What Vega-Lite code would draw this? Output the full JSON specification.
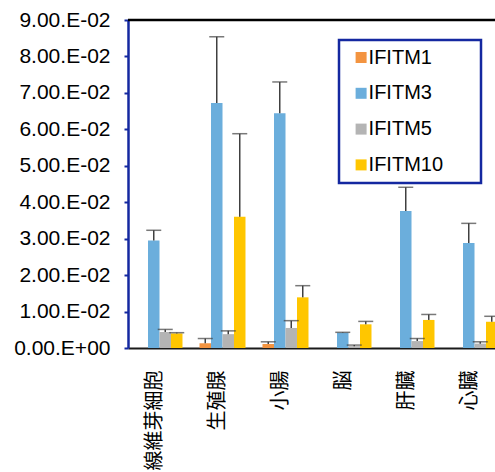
{
  "$schema": "https://vega.github.io/schema/vega-lite/v6.json",
  "autosize": {"type": "none"},
  "padding": {"left": 128, "top": 20, "right": 0, "bottom": 124},
  "width": 367,
  "height": 328,
  "background": "white",
  "config": {
    "view": {"stroke": null},
    "font": "Liberation Sans",
    "legend": {"strokeWidth": 2.5},
    "axisY": {"title": null, "grid": false, "tickCount": 10,
      "labelExpr": "datum.value == 0 ? '0.00.E+00' : format(datum.value * 100, '.2f') + '.E-02'",
      "labelOverlap": false, "labelFont": "Liberation Sans", "labelFontSize": 21, "labelColor": "black", "labelPadding": 14,
      "domainColor": "#1428A0", "domainWidth": 2.5, "tickColor": "#1428A0", "tickWidth": 2, "tickSize": 4}
  },
  "data": {"values": [
    {"tissue": "線維芽細胞", "gene": "IFITM1", "value": 0, "upper": 0},
    {"tissue": "線維芽細胞", "gene": "IFITM3", "value": 0.0295, "upper": 0.0323},
    {"tissue": "線維芽細胞", "gene": "IFITM5", "value": 0.0044, "upper": 0.0051},
    {"tissue": "線維芽細胞", "gene": "IFITM10", "value": 0.0040, "upper": 0.0042},
    {"tissue": "生殖腺", "gene": "IFITM1", "value": 0.0013, "upper": 0.0026},
    {"tissue": "生殖腺", "gene": "IFITM3", "value": 0.0672, "upper": 0.0854},
    {"tissue": "生殖腺", "gene": "IFITM5", "value": 0.0038, "upper": 0.0047},
    {"tissue": "生殖腺", "gene": "IFITM10", "value": 0.0360, "upper": 0.0588},
    {"tissue": "小腸", "gene": "IFITM1", "value": 0.0011, "upper": 0.0017},
    {"tissue": "小腸", "gene": "IFITM3", "value": 0.0644, "upper": 0.0730},
    {"tissue": "小腸", "gene": "IFITM5", "value": 0.0055, "upper": 0.0075},
    {"tissue": "小腸", "gene": "IFITM10", "value": 0.0139, "upper": 0.0171},
    {"tissue": "脳", "gene": "IFITM1", "value": 0, "upper": 0},
    {"tissue": "脳", "gene": "IFITM3", "value": 0.0042, "upper": 0.0043},
    {"tissue": "脳", "gene": "IFITM5", "value": 0.0005, "upper": 0.0008},
    {"tissue": "脳", "gene": "IFITM10", "value": 0.0065, "upper": 0.0073},
    {"tissue": "肝臓", "gene": "IFITM1", "value": 0, "upper": 0},
    {"tissue": "肝臓", "gene": "IFITM3", "value": 0.0376, "upper": 0.0441},
    {"tissue": "肝臓", "gene": "IFITM5", "value": 0.0019, "upper": 0.0026},
    {"tissue": "肝臓", "gene": "IFITM10", "value": 0.0077, "upper": 0.0092},
    {"tissue": "心臓", "gene": "IFITM1", "value": 0, "upper": 0},
    {"tissue": "心臓", "gene": "IFITM3", "value": 0.0288, "upper": 0.0342},
    {"tissue": "心臓", "gene": "IFITM5", "value": 0.0012, "upper": 0.0017},
    {"tissue": "心臓", "gene": "IFITM10", "value": 0.0072, "upper": 0.0087}
  ]},
  "layer": [
    {
      "mark": {"type": "bar"},
      "encoding": {
        "x": {"field": "tissue", "type": "nominal", "sort": ["線維芽細胞", "生殖腺", "小腸", "脳", "肝臓", "心臓"],
          "scale": {"range": [0, 378], "paddingInner": 0.27, "paddingOuter": 0.135},
          "axis": {"title": null, "labelAngle": 270, "labelFont": "Noto Sans CJK JP", "labelFontSize": 20, "labelColor": "black", "ticks": false, "labelPadding": 22, "labelOffset": -5, "domainColor": "#1a1a1a", "domainWidth": 2}},
        "xOffset": {"field": "gene", "type": "nominal", "scale": {"domain": ["IFITM1", "IFITM3", "IFITM5", "IFITM10"]}},
        "y": {"field": "value", "type": "quantitative", "scale": {"domain": [0, 0.09], "nice": false}},
        "color": {"field": "gene", "type": "nominal",
          "scale": {"domain": ["IFITM1", "IFITM3", "IFITM5", "IFITM10"], "range": ["#F39440", "#6BAEDC", "#B4B4B4", "#FFC600"]},
          "legend": {"orient": "none", "legendX": 211, "legendY": 20, "title": " ", "titleOrient": "right", "titlePadding": 30, "titleFontSize": 20,
            "strokeColor": "#1428A0",
            "fillColor": "white", "padding": 7.5, "symbolType": "square", "symbolSize": 121, "symbolStrokeWidth": 0,
            "labelFont": "Liberation Sans", "labelFontSize": 20, "labelColor": "black", "rowPadding": 15.8, "labelOffset": -2.5,
            "symbolOffset": 4.6}}
      }
    },
    {
      "transform": [{"filter": "datum.upper > datum.value"}],
      "mark": {"type": "rule", "color": "#404040", "strokeWidth": 1.5},
      "encoding": {
        "x": {"field": "tissue", "type": "nominal", "sort": ["線維芽細胞", "生殖腺", "小腸", "脳", "肝臓", "心臓"]},
        "xOffset": {"field": "gene", "type": "nominal"},
        "y": {"field": "value", "type": "quantitative"},
        "y2": {"field": "upper"}
      }
    },
    {
      "transform": [{"filter": "datum.upper > datum.value"}],
      "mark": {"type": "tick", "color": "#404040", "thickness": 1.5, "size": 15},
      "encoding": {
        "x": {"field": "tissue", "type": "nominal", "sort": ["線維芽細胞", "生殖腺", "小腸", "脳", "肝臓", "心臓"]},
        "xOffset": {"field": "gene", "type": "nominal"},
        "y": {"field": "upper", "type": "quantitative"}
      }
    },
    {
      "data": {"values": [{}]},
      "mark": {"type": "rule", "color": "black", "strokeWidth": 2.3},
      "encoding": {"y": {"datum": 0.09}}
    }
  ]
}
